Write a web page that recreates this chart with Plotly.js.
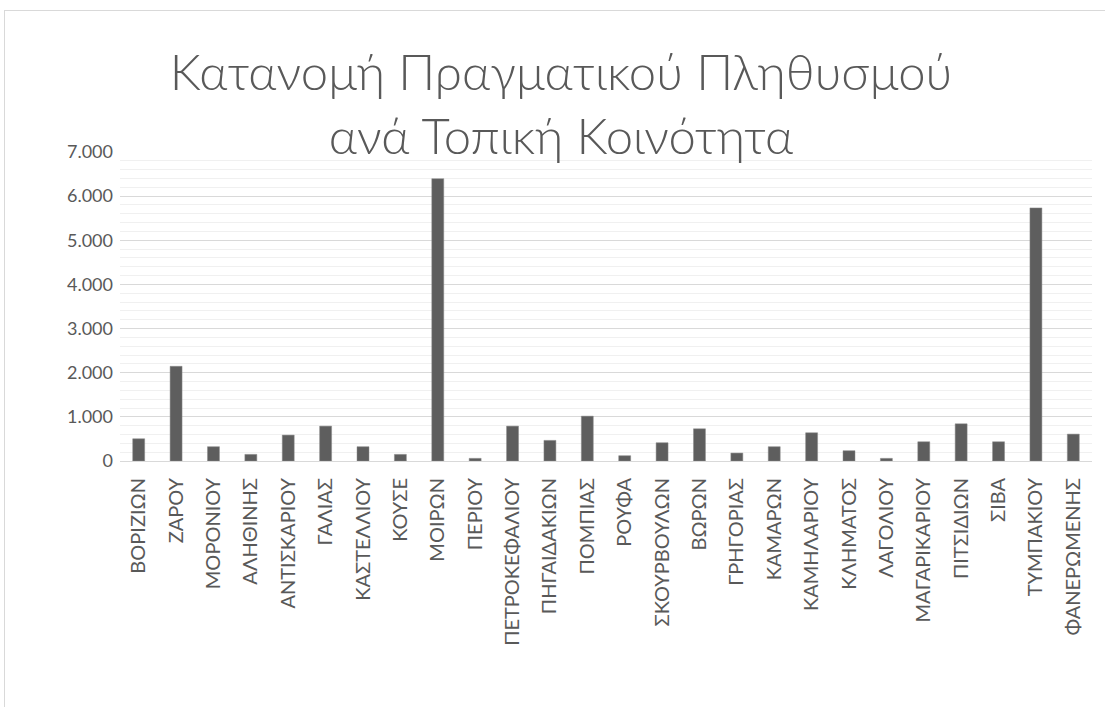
<!DOCTYPE html>
<html>
<head>
<meta charset="utf-8">
<script src="https://cdn.plot.ly/plotly-3.0.1.min.js"></script>
<style>
  html, body { margin: 0; padding: 0; background: #ffffff; }
  #wrap { position: relative; width: 1105px; height: 707px; overflow: hidden; }
  #frame { position: absolute; left: 4px; top: 10px; width: 1120px; height: 720px;
           border-left: 1px solid #d9d9d9; border-top: 1px solid #d9d9d9; pointer-events: none; }
  #chart { position: absolute; left: 0; top: 0; width: 1105px; height: 707px; }
</style>
</head>
<body>
<div id="wrap">
  <div id="chart"></div>
  <div id="frame"></div>
</div>
<script>
const categories = ["ΒΟΡΙΖΙΩΝ","ΖΑΡΟΥ","ΜΟΡΟΝΙΟΥ","ΑΛΗΘΙΝΗΣ","ΑΝΤΙΣΚΑΡΙΟΥ","ΓΑΛΙΑΣ","ΚΑΣΤΕΛΛΙΟΥ","ΚΟΥΣΕ","ΜΟΙΡΩΝ","ΠΕΡΙΟΥ","ΠΕΤΡΟΚΕΦΑΛΙΟΥ","ΠΗΓΑΙΔΑΚΙΩΝ","ΠΟΜΠΙΑΣ","ΡΟΥΦΑ","ΣΚΟΥΡΒΟΥΛΩΝ","ΒΩΡΩΝ","ΓΡΗΓΟΡΙΑΣ","ΚΑΜΑΡΩΝ","ΚΑΜΗΛΑΡΙΟΥ","ΚΛΗΜΑΤΟΣ","ΛΑΓΟΛΙΟΥ","ΜΑΓΑΡΙΚΑΡΙΟΥ","ΠΙΤΣΙΔΙΩΝ","ΣΙΒΑ","ΤΥΜΠΑΚΙΟΥ","ΦΑΝΕΡΩΜΕΝΗΣ"];
const population = [504, 2145, 324, 150, 587, 790, 324, 150, 6396, 60, 790, 467, 1016, 120, 414, 730, 180, 324, 640, 233, 60, 436, 843, 436, 5734, 609];
const titleText = "Κατανομή Πραγματικού Πληθυσμού<br>ανά Τοπική Κοινότητα";

const trace = {
  type: "bar",
  x: categories,
  y: population,
  marker: { color: "#5e5e5e", line: { color: "#8a8a8a", width: 0.5 } },
  hoverinfo: "x+y"
};

const layout = {
  width: 1105,
  height: 707,
  paper_bgcolor: "#ffffff",
  plot_bgcolor: "#ffffff",
  separators: ",.",
  margin: { l: 120, r: 13, t: 152, b: 246, pad: 0 },
  bargap: 0.68,
  showlegend: false,
  title: {
    text: titleText,
    font: { family: "Lato, Open Sans", size: 49, color: "#595959", weight: 300 },
    x: 561 / 1105, xref: "container", xanchor: "center",
    y: 1 - 90 / 707, yref: "container", yanchor: "middle"
  },
  xaxis: {
    type: "category",
    tickangle: -90,
    tickfont: { family: "Lato, Open Sans", size: 20, color: "#595959" },
    showgrid: false,
    showline: true,
    linecolor: "#d9d9d9",
    linewidth: 1,
    ticks: "",
    ticklabelstandoff: 8,
    automargin: false
  },
  yaxis: {
    range: [0, 7000],
    dtick: 1000,
    tickformat: ",d",
    tickfont: { family: "Lato, Open Sans", size: 18, color: "#595959" },
    showgrid: true,
    gridcolor: "#d9d9d9",
    gridwidth: 1,
    zeroline: false,
    showline: false,
    ticks: "",
    ticklabelstandoff: 6,
    minor: { dtick: 200, showgrid: true, gridcolor: "#f0f0f0", gridwidth: 1 },
    automargin: false
  }
};

Plotly.newPlot("chart", [trace], layout, { displayModeBar: false, staticPlot: true });
</script>
</body>
</html>
